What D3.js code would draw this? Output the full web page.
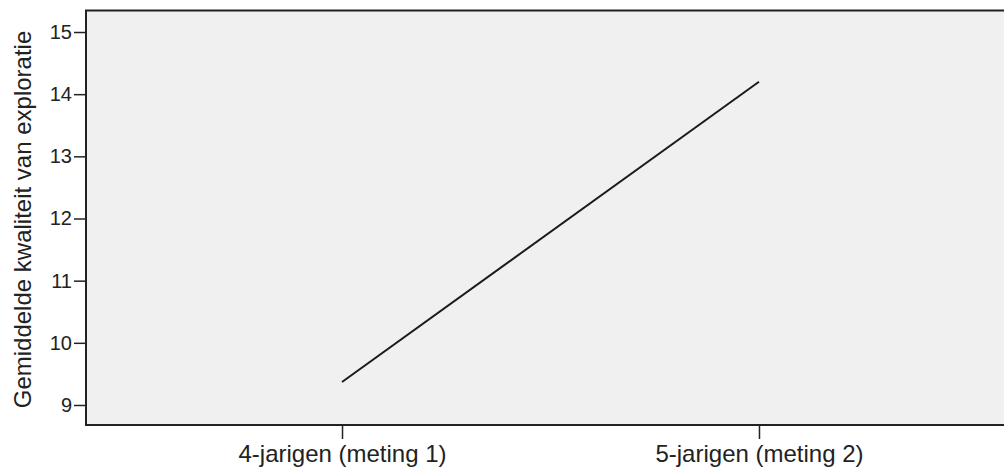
<!DOCTYPE html>
<html>
<head>
<meta charset="utf-8">
<script src="https://cdn.jsdelivr.net/npm/d3@7"></script>
<style>
  html, body { margin: 0; padding: 0; background: #fff; }
  svg { display: block; }
  text { font-family: "Liberation Sans", Arial, sans-serif; fill: #222; }
</style>
</head>
<body>
<svg id="chart" width="1004" height="472"></svg>
<script>
const categories = ["4-jarigen (meting 1)", "5-jarigen (meting 2)"];
const meanValues = [9.37, 14.2];
const yTicks = [9, 10, 11, 12, 13, 14, 15];
const yTitle = "Gemiddelde kwaliteit van exploratie";

(function () {
const W = 1004, H = 472;
const pLeft = 86, pTop = 10, pBottom = 425, pRight = 1015;

const svg = d3.select("#chart");

const x = d3.scalePoint().domain(categories).range([pLeft, pRight]).padding(0.614);
const y = d3.scaleLinear().domain([8.678, 15.354]).range([pBottom, pTop]);

// plot background
svg.append("rect")
  .attr("x", pLeft).attr("y", pTop)
  .attr("width", W - pLeft + 5).attr("height", pBottom - pTop)
  .attr("fill", "#f0f0f0");

// line
const line = d3.line().x((d, i) => x(categories[i])).y(d => y(d));
svg.append("path")
  .datum(meanValues)
  .attr("d", line)
  .attr("fill", "none")
  .attr("stroke", "#1a1a1a")
  .attr("stroke-width", 2);

// y axis
const yAxis = svg.append("g")
  .attr("transform", `translate(${pLeft},0)`)
  .call(d3.axisLeft(y).tickValues(yTicks).tickFormat(d3.format("d")).tickSize(12).tickPadding(2));
yAxis.select(".domain").remove();
yAxis.selectAll(".tick line").attr("stroke", "#222").attr("stroke-width", 1.5);
yAxis.selectAll(".tick text").style("font-size", "20px").attr("fill", "#222")
  .style("font-family", "'Liberation Sans', Arial, sans-serif");

// x axis
const xAxis = svg.append("g")
  .attr("transform", `translate(0,${pBottom})`)
  .call(d3.axisBottom(x).tickSize(14).tickPadding(6));
xAxis.select(".domain").remove();
xAxis.selectAll(".tick line").attr("stroke", "#222").attr("stroke-width", 1.5);
xAxis.selectAll(".tick text").style("font-size", "24px").attr("fill", "#222")
  .style("font-family", "'Liberation Sans', Arial, sans-serif");

// frame lines: left, top, bottom
svg.append("line").attr("x1", pLeft).attr("x2", pLeft).attr("y1", pTop).attr("y2", pBottom)
  .attr("stroke", "#222").attr("stroke-width", 2);
svg.append("line").attr("x1", pLeft - 1).attr("x2", W).attr("y1", pTop + 0.5).attr("y2", pTop + 0.5)
  .attr("stroke", "#222").attr("stroke-width", 2);
svg.append("line").attr("x1", pLeft - 1).attr("x2", W).attr("y1", pBottom).attr("y2", pBottom)
  .attr("stroke", "#222").attr("stroke-width", 2);

// y title
svg.append("text")
  .attr("transform", `translate(31,${(pTop + pBottom) / 2 + 2}) rotate(-90)`)
  .attr("text-anchor", "middle")
  .style("font-size", "24px")
  .text(yTitle);
})();
</script>
</body>
</html>
